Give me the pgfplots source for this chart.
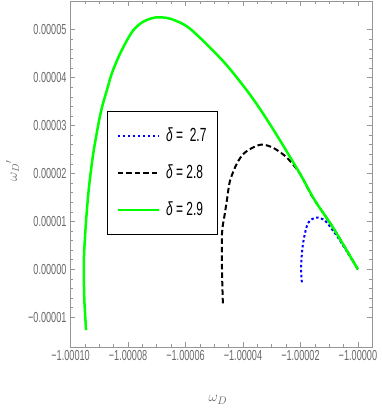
\documentclass[border=0pt]{standalone}
\usepackage{fontspec}
\setmainfont[FakeStretch=0.63]{Liberation Sans}
\usepackage{pgfplots}
\pgfplotsset{compat=1.18}
\definecolor{axgray}{RGB}{150,150,150}
\definecolor{lblgray}{RGB}{105,105,105}
\definecolor{mgreen}{RGB}{0,255,0}
\begin{document}
\begin{tikzpicture}
\begin{axis}[
  scale only axis, width=302bp, height=346bp,
  xmin=-10.02, xmax=0.49, ymin=-1.62, ymax=5.6,
  axis line style={axgray, line width=0.9bp},
  tick style={axgray, line width=0.6bp},
  tick align=inside,
  major tick length=5bp, minor tick length=3bp,
  xtick={-10,-8,-6,-4,-2,0},
  xticklabels={−1.00010,−1.00008,−1.00006,−1.00004,−1.00002,−1.00000},
  minor x tick num=3,
  ytick={-1,0,1,2,3,4,5},
  yticklabels={−0.00001,0.00000,0.00001,0.00002,0.00003,0.00004,0.00005},
  minor y tick num=4,
  ticklabel style={font=\fontsize{14.5bp}{16bp}\selectfont, text=lblgray},
  xlabel={$\omega_D$},
  ylabel={${\omega_D}'$},
  xlabel style={at={(axis description cs:0.49,-0.153)}, anchor=center, font=\fontsize{15bp}{18bp}\selectfont, text=lblgray},
  ylabel style={at={(axis description cs:-0.19,0.51)}, anchor=center, font=\fontsize{14bp}{18bp}\selectfont, text=lblgray},
  legend style={at={(axis description cs:0.1225,0.683)}, anchor=north west, draw=black, line width=1.2bp,
    font=\fontsize{19bp}{21bp}\selectfont, row sep=18bp, column sep=4bp, inner xsep=9bp, inner ysep=15bp,
    nodes={text height=13bp, text depth=2bp, inner sep=2bp}},
  legend cell align=left,
  legend image code/.code={\draw[#1] (0bp,0bp) -- (41bp,0bp);},
]
\addplot[blue, line width=2bp, dash pattern=on 2.5bp off 2.5bp, smooth] coordinates {
(-1.95,-0.27) (-1.98,0.04) (-1.91,0.54) (-1.74,0.96) (-1.46,1.08) (-1.15,1.02) (-0.87,0.81) (-0.70,0.67) (-0.35,0.34) (0,0)};
\addlegendentry{\textit{δ} =\ \ 2.7}
\addplot[black, line width=2bp, dash pattern=on 5.5bp off 3bp, smooth] coordinates {
(-4.70,-0.71) (-4.72,-0.3) (-4.73,0) (-4.73,0.75) (-4.63,1.17) (-4.56,1.44) (-4.45,1.85) (-4.21,2.21) (-3.93,2.44) (-3.41,2.60) (-2.96,2.54) (-2.47,2.33) (-2.02,2.0) (-1.57,1.5) (-0.87,0.875) (0,0)};
\addlegendentry{\textit{δ} = 2.8}
\addplot[mgreen, line width=2.5bp, smooth] coordinates {
(-9.46,-1.27) (-9.52,-0.65) (-9.54,-0.02) (-9.53,0.33) (-9.46,1.02) (-9.36,1.71) (-9.21,2.42) (-9.01,3.10) (-8.89,3.42) (-8.74,3.73) (-8.57,4.08) (-8.34,4.42) (-8.10,4.71) (-7.83,4.98) (-7.52,5.15) (-7.18,5.24) (-6.89,5.26) (-6.48,5.22) (-5.84,5.02) (-4.70,4.35) (-3.86,3.73) (-3.30,3.25) (-2.71,2.69) (-2.02,2.0) (-1.50,1.44) (-0.87,0.875) (0,0)};
\addlegendentry{\textit{δ} = 2.9}
\end{axis}
\pgfresetboundingbox
\useasboundingbox ([shift={(-70bp,-62bp)}]current axis.south west) rectangle ([shift={(10bp,1bp)}]current axis.north east);
\end{tikzpicture}
\end{document}
